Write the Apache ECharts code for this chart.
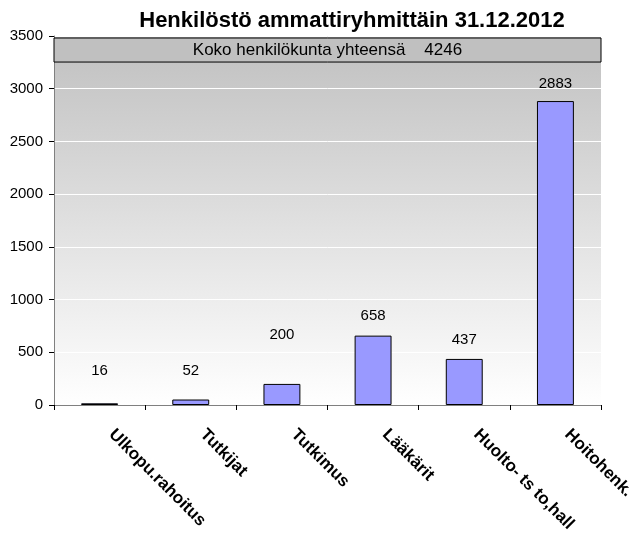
<!DOCTYPE html>
<html><head><meta charset="utf-8">
<script src="https://cdn.jsdelivr.net/npm/echarts@6/dist/echarts.min.js"></script>
<style>html,body{margin:0;padding:0;background:#fff}#c{width:630px;height:539px}</style>
</head><body><div id="c"></div>
<script>
const categories = ['Ulkopu.rahoitus', 'Tutkijat', 'Tutkimus', 'Lääkärit', 'Huolto- ts to,hall', 'Hoitohenk.'];
const values = [16, 52, 200, 658, 437, 2883];
const yTicks = [0, 500, 1000, 1500, 2000, 2500, 3000, 3500];
const totalLabel = 'Koko henkilökunta yhteensä    4246';
const totalBand = [3253, 3481];
const titleText = 'Henkilöstö ammattiryhmittäin 31.12.2012';

const labelLift = [13, 9, 30, 0, 0, -2];
const FONT = 'Liberation Sans, Arial, sans-serif';
const chart = echarts.init(document.getElementById('c'));
chart.setOption({
  animation: false,
  title: { text: titleText, left: 347, top: 5, textAlign: 'center',
    textStyle: { fontFamily: FONT, fontSize: 22, fontWeight: 'bold', color: '#000' } },
  grid: { left: 54, right: 29, top: 36, bottom: 134, show: true, borderWidth: 0,
    outerBoundsMode: 'none', containLabel: false,
    backgroundColor: new echarts.graphic.LinearGradient(0, 0, 0, 1, [
      { offset: 0, color: '#c0c0c0' }, { offset: 1, color: '#ffffff' }]) },
  xAxis: { type: 'category', data: categories,
    axisLine: { lineStyle: { color: '#808080', width: 1 } },
    axisTick: { show: true, inside: false, length: 5, alignWithLabel: false, lineStyle: { color: '#000' } },
    axisLabel: { rotate: -45, margin: 15, padding: [0, 0, 0, 17], color: '#000', fontFamily: FONT, fontSize: 17, fontWeight: 'bold', interval: 0, hideOverlap: false } },
  yAxis: { type: 'value', min: yTicks[0], max: yTicks[yTicks.length - 1], interval: 500,
    axisLine: { show: true, lineStyle: { color: '#808080' } },
    axisTick: { show: true, length: 5, lineStyle: { color: '#000' } },
    axisLabel: { color: '#000', fontFamily: FONT, fontSize: 15, margin: 11, formatter: v => String(v) },
    splitLine: { lineStyle: { color: '#ffffff', width: 1 } } },
  series: [{
    type: 'bar', barWidth: '40.5%',
    data: values.map((v, i) => ({ value: v, label: { offset: [0, -labelLift[i]] } })),
    itemStyle: { color: '#9999ff', borderColor: '#000', borderWidth: 1 },
    label: { show: true, position: 'top', distance: 12, color: '#000', fontFamily: FONT, fontSize: 15 },
    markArea: { silent: true,
      itemStyle: { color: '#c0c0c0', borderColor: '#000', borderWidth: 1 },
      label: { show: true, position: 'inside', color: '#000', fontFamily: FONT, fontSize: 17 },
      data: [[{ yAxis: totalBand[0], name: totalLabel }, { yAxis: totalBand[1] }]] }
  }]
});
</script></body></html>
